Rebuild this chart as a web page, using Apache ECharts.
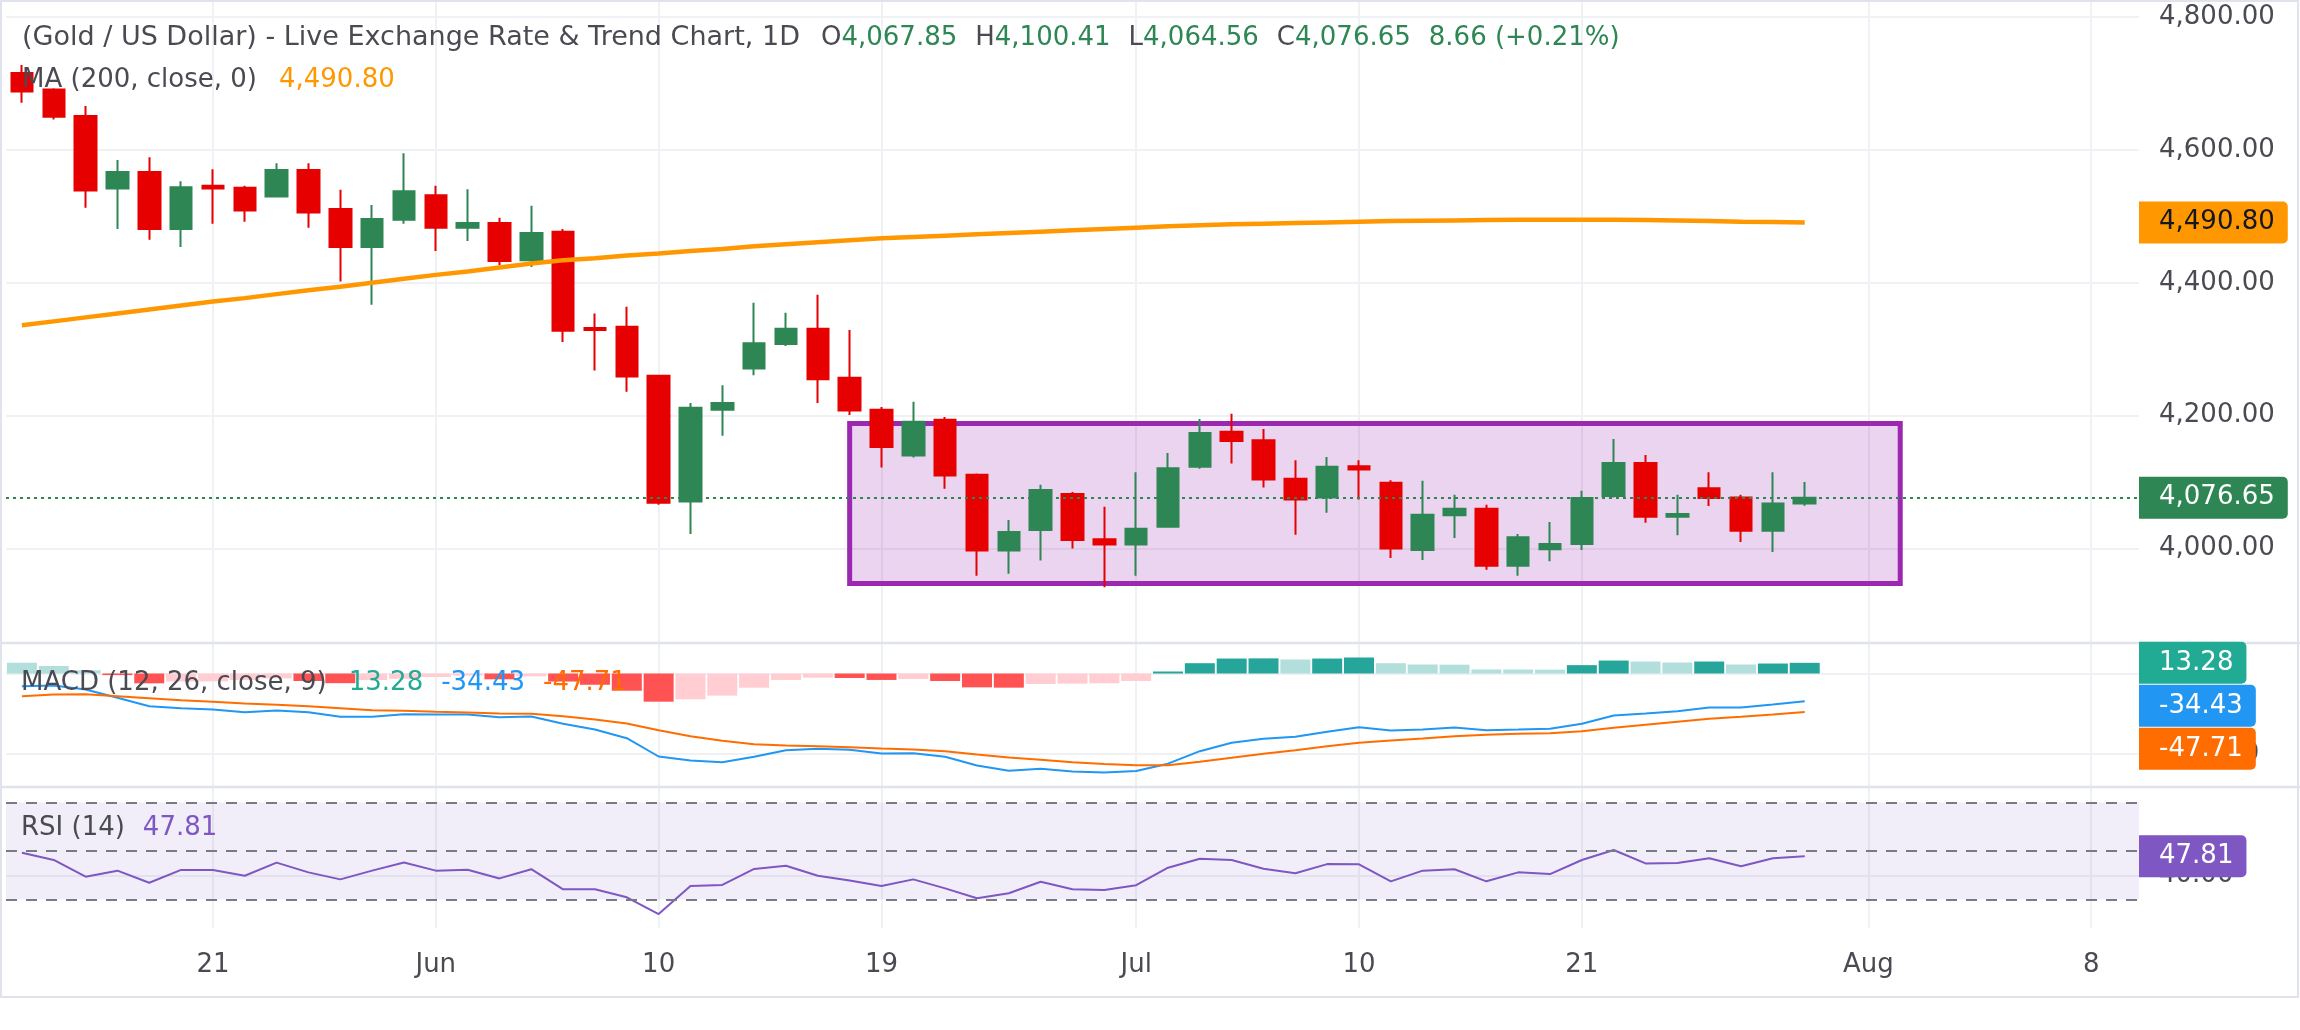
<!DOCTYPE html>
<html>
<head>
<meta charset="utf-8">
<title>Gold / US Dollar - 1D</title>
<script src="https://cdn.jsdelivr.net/npm/echarts@6/dist/echarts.min.js"></script>
<style>
  html, body { margin: 0; padding: 0; background: #fff; }
  #chart { width: 2300px; height: 1030px; }
</style>
</head>
<body>
<div id="chart"></div>
<script>
// Daily sessions, oldest first
var opens  = [4716, 4691, 4651, 4542, 4567, 4481, 4546, 4543, 4530, 4570, 4511, 4454, 4495, 4532, 4483, 4490, 4434, 4477, 4332, 4334,
              4260, 4071, 4209, 4271, 4308, 4331, 4257, 4209, 4140, 4194, 4111, 3997, 4028, 4082, 4014, 4006, 4033, 4123, 4176, 4163,
              4105, 4077, 4124, 4099, 3998, 4050, 4060, 3974, 3999, 4007, 4079, 4129, 4048, 4091, 4077, 4027, 4067.85];
var closes = [4688, 4650, 4539, 4567, 4481, 4544, 4542, 4509, 4570, 4506, 4454, 4496, 4538, 4483, 4490, 4433, 4475, 4328, 4329, 4259,
              4069, 4212, 4219, 4309, 4331, 4255, 4208, 4153, 4191, 4110, 3997, 4025, 4088, 4013, 4006, 4030, 4121, 4174, 4162, 4104,
              4074, 4123, 4119, 4000, 4051, 4060, 3974, 4017, 4007, 4076, 4129, 4048, 4052, 4076, 4027, 4067.99, 4076.65];
var lows   = [4671, 4646, 4513, 4481, 4465, 4454, 4489, 4492, 4530, 4483, 4402, 4367, 4489, 4448, 4463, 4427, 4424, 4311, 4268, 4236,
              4066, 4022, 4170, 4261, 4305, 4219, 4201, 4122, 4137, 4090, 3959, 3962, 3982, 4000, 3942, 3959, 4032, 4120, 4128, 4092,
              4021, 4054, 4074, 3986, 3983, 4016, 3968, 3959, 3981, 3998, 4077, 4039, 4020, 4064, 4010, 3995, 4064.56];
var highs  = [4728, 4693, 4666, 4585, 4589, 4553, 4571, 4546, 4580, 4580, 4540, 4517, 4595, 4546, 4541, 4498, 4516, 4481, 4354, 4364,
              4260, 4219, 4246, 4370, 4355, 4382, 4329, 4213, 4221, 4198, 4113, 4043, 4096, 4085, 4063, 4115, 4144, 4195, 4203, 4180,
              4133, 4138, 4133, 4103, 4102, 4081, 4066, 4022, 4040, 4087, 4165, 4141, 4081, 4115, 4081, 4115, 4100.41];
var ma200  = [4336, 4342, 4348, 4354, 4360, 4366, 4372, 4377, 4383, 4389, 4394, 4400, 4406, 4412, 4417, 4423, 4429, 4434, 4437, 4441,
              4444, 4448, 4451, 4455, 4458, 4461, 4464, 4467, 4469, 4471, 4473, 4475, 4477, 4479, 4481, 4483, 4485, 4486.5, 4488, 4489,
              4490, 4491, 4492, 4493, 4493.5, 4494, 4494.5, 4495, 4495, 4495, 4495, 4494.5, 4494, 4493, 4492, 4491.5, 4490.80];
var macdLine   = [-15.7, -14.9, -19.9, -30.2, -40.6, -43.1, -44.7, -48.1, -46, -48.1, -53.8, -53.8, -50.6, -50.9, -50.9, -54.3, -53.4, -62.5, -69.6, -80.4,
                  -103.1, -108.1, -110.2, -103.5, -95.3, -93.5, -94.8, -99.4, -99, -103.5, -114.3, -120.9, -118.4, -121.7, -123, -121.1, -112, -96.5, -86.1, -81.2,
                  -78.7, -72.4, -66.7, -70.8, -69.6, -67.1, -70.4, -69.6, -68.7, -62.5, -52.2, -49.7, -46.8, -42.2, -42.2, -38.5, -34.43];
var signalLine = [-28.2, -26.1, -25.7, -28.2, -30.7, -33.2, -35.2, -37.3, -38.9, -40.6, -43.1, -45.6, -46.3, -47.6, -48.4, -49.7, -50.1, -53, -57.1, -62.1,
                  -70.4, -77.9, -83.6, -87.8, -89.4, -90.3, -91.6, -93.2, -94.4, -96.5, -100.6, -104.3, -107.2, -110.2, -112.5, -113.9, -113.9, -109.7, -104.8, -99.8,
                  -95.3, -90.3, -86.1, -83.2, -80.7, -77.9, -76.2, -74.9, -74.2, -71.7, -67.5, -63.8, -60, -56.3, -53.8, -50.9, -47.71];
var histogram  = [13.4, 9.3, 4, -2, -12.2, -10, -9.8, -8, -6, -9.3, -12, -8.2, -6.6, -4.3, -2.5, -7.2, -3.5, -10, -14, -21.4,
                  -35, -32, -27.5, -17.6, -8, -5.2, -5.6, -8, -6.8, -9.3, -17.2, -17.6, -13, -12.6, -12.2, -9.3, 2.5, 12.8, 18.6, 18.8,
                  17.4, 18.6, 19.9, 12.8, 11.2, 11.0, 5, 4.9, 4.8, 10.4, 16.1, 14.9, 13.7, 14.9, 11.2, 12.4, 13.28];
var rsi        = [49.3, 46.3, 39.4, 41.9, 36.9, 42.2, 42.2, 39.8, 45.2, 41.2, 38.3, 41.9, 45.3, 41.9, 42.3, 38.7, 42.5, 34.2, 34.2, 30.9,
                  24, 35.6, 36, 42.6, 43.9, 39.8, 37.8, 35.6, 38.3, 34.6, 30.5, 32.6, 37.3, 34.2, 33.9, 35.9, 43.1, 46.8, 46.3, 42.7,
                  40.8, 44.6, 44.5, 37.5, 41.9, 42.5, 37.5, 41.2, 40.5, 46.3, 50.4, 44.9, 45.1, 47, 43.7, 47, 47.81];

var slotCount = 67;                                   // sessions plus empty room on the right
var tickIdx   = [6, 13, 20, 27, 35, 42, 49, 58, 65];
var tickText  = ['21', 'Jun', '10', '19', 'Jul', '10', '21', 'Aug', '8'];
var priceTicks = [4000, 4200, 4400, 4600, 4800];
var macdTicks  = [0, -100];
var rsiTicks   = [40];
var rsiLevels  = [70, 50, 30];
var boxSessions = [26, 59];
var boxPrices   = [3947.5, 4188.3];
var dayChange   = [8.66, 0.21];

// Look
var W = 2300;
var gridLeft = 6, gridRight = 161;
var plotRight = W - gridRight;
var font = 'DejaVu Sans';
var txt = '#4a4a52';
var up = '#2d8653', down = '#e60000';
var gridColor = '#f0f1f4';
var last = closes.length - 1;

var slots = [];
for (var i = 0; i < slotCount; i++) slots.push(String(i));

function fmt(v) {
    var s = Math.abs(v).toFixed(2).split('.');
    s[0] = s[0].replace(/\B(?=(\d{3})+(?!\d))/g, ',');
    return (v < 0 ? '-' : '') + s.join('.');
}

function isTick(idx) {
    return tickIdx.indexOf(idx) >= 0;
}

function rich(color, padLeft) {
    return { color: color, fontSize: 26, lineHeight: 32, fontFamily: font, fontWeight: 'normal', padding: [0, 0, 0, padLeft || 0] };
}

function xAxisFor(gridIndex, showLabels) {
    return {
        type: 'category',
        gridIndex: gridIndex,
        data: slots,
        boundaryGap: true,
        axisLine: { show: false },
        axisTick: { show: false },
        axisLabel: {
            show: showLabels,
            interval: function (idx) { return isTick(idx); },
            formatter: function (val, idx) { return isTick(idx) ? tickText[tickIdx.indexOf(idx)] : ''; },
            color: txt,
            fontSize: 26,
            fontFamily: font,
            margin: 24
        },
        splitLine: {
            show: true,
            interval: function (idx) { return isTick(idx); },
            alignWithLabel: true,
            lineStyle: { color: gridColor, width: 2 }
        }
    };
}

function yAxisFor(gridIndex, min, max, ticks) {
    return {
        type: 'value',
        gridIndex: gridIndex,
        position: 'right',
        min: min,
        max: max,
        axisLine: { show: false },
        axisTick: { show: false, customValues: ticks },
        axisLabel: {
            customValues: ticks,
            formatter: fmt,
            color: txt,
            fontSize: 26,
            fontFamily: font,
            margin: 20
        },
        splitLine: { lineStyle: { color: gridColor, width: 2 } }
    };
}

var candles = opens.map(function (o, k) {
    return [o, closes[k], lows[k], highs[k]];
});

var ohlcText = '{k|O}{v|' + fmt(opens[last]) + '}' +
               '{kk|H}{v|' + fmt(highs[last]) + '}' +
               '{kk|L}{v|' + fmt(lows[last]) + '}' +
               '{kk|C}{v|' + fmt(closes[last]) + '}' +
               '{vv|' + fmt(dayChange[0]) + ' (+' + fmt(dayChange[1]) + '%)}';

var chart = echarts.init(document.getElementById('chart'));

chart.setOption({
    animation: false,
    backgroundColor: '#ffffff',
    textStyle: { fontFamily: font },

    title: [
        {
            left: 22, top: 22, padding: 0,
            text: '(Gold / US Dollar) - Live Exchange Rate & Trend Chart, 1D',
            textStyle: { color: txt, fontSize: 27, lineHeight: 32, fontWeight: 'normal', fontFamily: font }
        },
        {
            left: 821, top: 22, padding: 0,
            text: ohlcText,
            textStyle: { fontWeight: 'normal', rich: { k: rich(txt), kk: rich(txt, 18), v: rich(up), vv: rich(up, 18) } }
        },
        {
            left: 22, top: 64, padding: 0,
            text: '{k|MA (200, close, 0)}{v|' + fmt(ma200[last]) + '}',
            textStyle: { fontWeight: 'normal', rich: { k: rich(txt), v: rich('#ff9800', 22) } }
        },
        {
            left: 21, top: 667, padding: 0,
            text: '{k|MACD (12, 26, close, 9)}{h|' + fmt(histogram[last]) + '}{m|' + fmt(macdLine[last]) + '}{s|' + fmt(signalLine[last]) + '}',
            textStyle: { fontWeight: 'normal', rich: { k: rich(txt), h: rich('#22ab94', 22), m: rich('#2196f3', 18), s: rich('#ff6d00', 18) } }
        },
        {
            left: 21, top: 812, padding: 0,
            text: '{k|RSI (14)}{v|' + fmt(rsi[last]) + '}',
            textStyle: { fontWeight: 'normal', rich: { k: rich(txt), v: rich('#7e57c2', 18) } }
        }
    ],

    grid: [
        { left: gridLeft, right: gridRight, top: 2, height: 641 },
        { left: gridLeft, right: gridRight, top: 643, height: 144 },
        { left: gridLeft, right: gridRight, top: 787, height: 141 }
    ],

    xAxis: [xAxisFor(0, false), xAxisFor(1, false), xAxisFor(2, true)],

    yAxis: [
        yAxisFor(0, 3857.9, 4822.7, priceTicks),
        yAxisFor(1, -141, 37.9, macdTicks),
        yAxisFor(2, 18.25, 76.4, rsiTicks)
    ],

    series: [
        {
            name: 'MA 200',
            type: 'line',
            xAxisIndex: 0, yAxisIndex: 0,
            data: ma200,
            showSymbol: false,
            smooth: false,
            lineStyle: { color: '#ff9800', width: 4.5 }
        },
        {
            name: 'XAUUSD',
            type: 'candlestick',
            xAxisIndex: 0, yAxisIndex: 0,
            data: candles,
            barWidth: 22,
            itemStyle: {
                color: up, color0: down,
                borderColor: up, borderColor0: down,
                borderWidth: 2
            },
            markArea: {
                silent: true,
                itemStyle: { color: 'rgba(156, 39, 176, 0.2)', borderColor: '#9c27b0', borderWidth: 5 },
                data: [[
                    { xAxis: boxSessions[0], yAxis: boxPrices[1] },
                    { xAxis: boxSessions[1], yAxis: boxPrices[0] }
                ]]
            },
            markLine: {
                silent: true,
                symbol: ['none', 'none'],
                label: { show: false },
                lineStyle: { color: up, type: [3, 4], width: 2 },
                data: [{ yAxis: closes[last] }]
            }
        },
        {
            name: 'Histogram',
            type: 'bar',
            xAxisIndex: 1, yAxisIndex: 1,
            data: histogram,
            barWidth: 30,
            itemStyle: {
                color: function (p) {
                    var v = histogram[p.dataIndex];
                    var prev = p.dataIndex > 0 ? histogram[p.dataIndex - 1] : Infinity;
                    if (v >= 0) return v >= prev ? '#26a69a' : '#b2dfdb';
                    return v < prev ? '#ff5252' : '#ffcdd2';
                }
            }
        },
        {
            name: 'MACD',
            type: 'line',
            xAxisIndex: 1, yAxisIndex: 1,
            data: macdLine,
            showSymbol: false,
            lineStyle: { color: '#2196f3', width: 2 }
        },
        {
            name: 'Signal',
            type: 'line',
            xAxisIndex: 1, yAxisIndex: 1,
            data: signalLine,
            showSymbol: false,
            lineStyle: { color: '#ff6d00', width: 2 }
        },
        {
            name: 'RSI',
            type: 'line',
            xAxisIndex: 2, yAxisIndex: 2,
            data: rsi,
            showSymbol: false,
            lineStyle: { color: '#7e57c2', width: 2 },
            markArea: {
                silent: true,
                itemStyle: { color: 'rgba(126, 87, 194, 0.1)' },
                data: [[{ yAxis: rsiLevels[0] }, { yAxis: rsiLevels[2] }]]
            },
            markLine: {
                silent: true,
                symbol: ['none', 'none'],
                label: { show: false },
                lineStyle: { color: '#787b86', type: [11, 9], width: 2 },
                data: rsiLevels.map(function (v) { return { yAxis: v }; })
            }
        }
    ]
});


//
// Price-scale badges, placed through the axes
//

function badge(y, text, bg, fg) {
    return {
        type: 'text',
        x: plotRight,
        y: y,
        z: 100,
        style: {
            text: text,
            fill: fg,
            font: '26px "DejaVu Sans"',
            align: 'left',
            verticalAlign: 'middle',
            lineHeight: 26,
            backgroundColor: bg,
            padding: [8, 13, 8, 20],
            borderRadius: [0, 5, 5, 0]
        }
    };
}

var graphics = [];

// Frame and pane separators
graphics.push({ type: 'rect', z: 90, silent: true, shape: { x: 1, y: 1, width: W - 3, height: 996 }, style: { fill: null, stroke: '#e0e3eb', lineWidth: 2 } });
graphics.push({ type: 'line', z: 90, silent: true, shape: { x1: 0, y1: 643, x2: W, y2: 643 }, style: { stroke: '#e0e3eb', lineWidth: 2.5 } });
graphics.push({ type: 'line', z: 90, silent: true, shape: { x1: 0, y1: 787, x2: W, y2: 787 }, style: { stroke: '#e0e3eb', lineWidth: 2.5 } });

// Main pane
graphics.push(badge(chart.convertToPixel({ yAxisIndex: 0 }, ma200[last]), fmt(ma200[last]), '#ff9800', '#131722'));
graphics.push(badge(chart.convertToPixel({ yAxisIndex: 0 }, closes[last]), fmt(closes[last]), up, '#ffffff'));

// MACD pane, stacked so they do not overlap
var macdBadges = [
    { v: histogram[last], bg: '#22ab94' },
    { v: macdLine[last], bg: '#2196f3' },
    { v: signalLine[last], bg: '#ff6d00' }
];
macdBadges.forEach(function (b) { b.y = chart.convertToPixel({ yAxisIndex: 1 }, b.v); });
macdBadges.sort(function (a, b) { return a.y - b.y; });
for (var j = 1; j < macdBadges.length; j++) {
    if (macdBadges[j].y < macdBadges[j - 1].y + 43) macdBadges[j].y = macdBadges[j - 1].y + 43;
}
macdBadges.forEach(function (b) { graphics.push(badge(b.y, fmt(b.v), b.bg, '#ffffff')); });

// RSI pane
graphics.push(badge(chart.convertToPixel({ yAxisIndex: 2 }, rsi[last]), fmt(rsi[last]), '#7e57c2', '#ffffff'));

chart.setOption({ graphic: graphics });
</script>
</body>
</html>
